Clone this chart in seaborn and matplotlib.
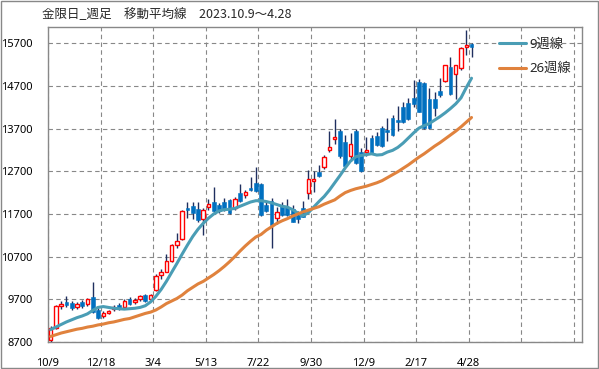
import matplotlib
matplotlib.use("Agg")
import matplotlib.pyplot as plt
from matplotlib.patches import Rectangle
import numpy as np
import pandas as pd
import seaborn as sns

# weekly candles, 2023.10.9 - 2025.4.28
opens = [8740, 9030, 9550, 9640, 9610, 9525, 9640, 9585, 9760, 9450,
         9310, 9390, 9470, 9575, 9530, 9700, 9640, 9700, 9810, 9700,
         9930, 10280, 10345, 10590, 10965, 11110, 11830, 11885, 11810, 11575,
         11870, 11990, 11900, 11985, 12020, 11830, 12195, 12150, 12310, 12430,
         12400, 11910, 12010, 11600, 11885, 11870, 11810, 11680, 11830, 12180,
         12465, 12680, 12790, 13210, 13460, 13635, 13385, 13055, 13635, 13140,
         13150, 13485, 13515, 13705, 13660, 13955, 13910, 14195, 14295, 14415,
         14795, 14760, 14390, 14390, 14575, 14820, 15145, 14975, 15110, 15600,
         15680]
closes = [9030, 9540, 9590, 9570, 9500, 9585, 9550, 9710, 9410, 9270,
          9385, 9430, 9520, 9500, 9670, 9590, 9690, 9775, 9670, 9795,
          10250, 10330, 10590, 10965, 11075, 11760, 11790, 11715, 11560, 11790,
          11930, 11760, 11780, 11820, 11720, 12060, 12010, 12210, 12270, 12245,
          11675, 11775, 11430, 11740, 11675, 11675, 11520, 11580, 11640, 12510,
          12510, 12590, 13025, 13260, 13495, 13055, 12820, 13340, 12900, 12710,
          13190, 13135, 13325, 13290, 13625, 13550, 13845, 13855, 13930, 14275,
          14095, 13705, 13705, 14185, 14480, 15185, 14500, 15185, 15580, 15655,
          15605]
highs = [9080, 9560, 9650, 9770, 9660, 9630, 9680, 9740, 10100, 9500,
         9430, 9460, 9560, 9620, 9700, 9760, 9720, 9800, 9830, 9820,
         10290, 10420, 10760, 11000, 11260, 11790, 11990, 11980, 11980, 11830,
         12050, 12320, 11960, 12080, 12060, 12090, 12400, 12250, 12570, 12810,
         12430, 12000, 12080, 11870, 11990, 12040, 11900, 11780, 12000, 12720,
         12700, 12850, 13070, 13650, 13920, 13700, 13550, 13600, 13700, 13250,
         13500, 13560, 13620, 13760, 13950, 14030, 14240, 14320, 14410, 14835,
         14870, 14800, 14640, 14560, 14880, 15200, 15380, 15200, 15600, 16010,
         15700]
lows = [8690, 9010, 9480, 9530, 9460, 9470, 9500, 9540, 9390, 9230,
        9260, 9350, 9420, 9460, 9500, 9560, 9600, 9660, 9640, 9660,
        9900, 10180, 10330, 10570, 10900, 11090, 11600, 11580, 11520, 11200,
        11800, 11740, 11720, 11780, 11700, 11800, 11990, 12080, 12230, 12220,
        11650, 11740, 10900, 11470, 11650, 11650, 11500, 11480, 11620, 12060,
        12220, 12560, 12750, 13150, 13330, 13000, 12790, 12950, 12880, 12690,
        13060, 13100, 13290, 13260, 13420, 13530, 13650, 13830, 13900, 14200,
        14080, 13690, 13690, 13990, 14450, 14800, 14480, 14400, 15080, 15430,
        15370]

ma9 = [8990, 9050, 9110, 9170, 9220, 9270, 9310, 9360, 9440, 9510,
       9530, 9510, 9490, 9480, 9470, 9480, 9490, 9510, 9550, 9640,
       9770, 9930, 10120, 10330, 10540, 10760, 10970, 11170, 11340, 11480,
       11600, 11700, 11770, 11800, 11810, 11830, 11880, 11930, 11980, 12010,
       12010, 11990, 11960, 11920, 11880, 11860, 11800, 11720, 11660, 11730,
       11860, 11990, 12110, 12260, 12430, 12600, 12780, 12940, 13040, 13070,
       13090, 13110, 13080, 13090, 13150, 13190, 13260, 13360, 13480, 13600,
       13710, 13770, 13820, 13900, 13980, 14070, 14170, 14280, 14420, 14660,
       14880]
ma26 = [8830, 8870, 8910, 8940, 8970, 9000, 9020, 9050, 9070, 9100,
        9120, 9150, 9170, 9200, 9230, 9250, 9290, 9330, 9370, 9400,
        9450, 9520, 9600, 9660, 9720, 9800, 9900, 9980, 10060, 10120,
        10200, 10280, 10370, 10470, 10580, 10700, 10830, 10950, 11060, 11160,
        11220, 11320, 11400, 11480, 11540, 11590, 11650, 11700, 11750, 11790,
        11830, 11870, 11930, 11980, 12030, 12120, 12200, 12250, 12290, 12320,
        12350, 12390, 12430, 12480, 12550, 12620, 12690, 12770, 12850, 12940,
        13030, 13110, 13200, 13290, 13370, 13460, 13550, 13640, 13740, 13850,
        13960]

tick_labels = ["10/9", "12/18", "3/4", "5/13", "7/22", "9/30", "12/9", "2/17", "4/28", "", ""]
y_ticks = [8700, 9700, 10700, 11700, 12700, 13700, 14700, 15700]

RED = "#FF0000"
BLUE = "#0070C0"
WICK = "#1F2F5F"
TEAL = "#4A9DB5"
ORANGE = "#E0823D"
GRAY = "#888888"

sns.set_style("white")
plt.rcParams["font.family"] = ["Noto Sans", "Noto Sans CJK JP", "DejaVu Sans"]

df = pd.DataFrame({"open": opens, "high": highs, "low": lows, "close": closes,
                   "ma9": ma9, "ma26": ma26})
df["week"] = np.arange(len(df))
df["body_lo"] = df[["open", "close"]].min(axis=1)
df["body_h"] = (df["close"] - df["open"]).abs().clip(lower=20)
up = df["close"] >= df["open"]

fig = plt.figure(figsize=(5.99, 3.69), dpi=100)
ax = fig.add_axes([48 / 599, 27 / 369, 534 / 599, 315 / 369])

# wicks, then hollow red (up) and filled blue (down) bodies
ax.vlines(df["week"], df["low"], df["high"], color=WICK, lw=1.0, zorder=2)
ax.bar(df.loc[up, "week"], df.loc[up, "body_h"], bottom=df.loc[up, "body_lo"],
       width=0.66, facecolor="white", edgecolor=RED, lw=1.0, zorder=3)
ax.bar(df.loc[~up, "week"], df.loc[~up, "body_h"], bottom=df.loc[~up, "body_lo"],
       width=0.72, facecolor=BLUE, edgecolor=BLUE, lw=0.4, zorder=3)

sns.lineplot(data=df, x="week", y="ma9", color=TEAL, lw=2.2, ax=ax, zorder=4, label="9週線")
sns.lineplot(data=df, x="week", y="ma26", color=ORANGE, lw=2.2, ax=ax, zorder=4, label="26週線")

ax.set_xlim(-0.5, 101)
ax.set_ylim(8700, 16080)
ax.set_xticks(np.arange(0, 101, 10) - 0.5)
ax.set_xticklabels(tick_labels)
ax.set_yticks(y_ticks)
ax.set_yticklabels([str(v) for v in y_ticks])
ax.set_xlabel("")
ax.set_ylabel("")

ax.grid(True, color=GRAY, ls=(0, (4, 3)), lw=0.8)
ax.set_axisbelow(True)
for s in ax.spines.values():
    s.set_color(GRAY)
    s.set_linewidth(1.0)
ax.tick_params(direction="out", length=3, width=0.8, color=GRAY, labelsize=8, labelcolor="black")
ax.tick_params(axis="y", pad=8)
ax.tick_params(axis="x", pad=8.5)

ax.legend(loc="upper left", bbox_to_anchor=(0.845, 0.965), frameon=False, fontsize=9.5,
          handlelength=2.0, handletextpad=0.25, labelspacing=0.85, borderpad=0, borderaxespad=0)

fig.text(42 / 599, 1 - 15 / 369, "金限日_週足　移動平均線　2023.10.9～4.28",
         family=["Noto Sans CJK JP", "DejaVu Sans"], fontsize=9, va="center", ha="left")

fig.patches.append(Rectangle((1 / 599, 1 / 369), 597 / 599, 367 / 369, transform=fig.transFigure,
                             fill=False, edgecolor=GRAY, lw=1.0))

fig.savefig("out.png", dpi=100)
